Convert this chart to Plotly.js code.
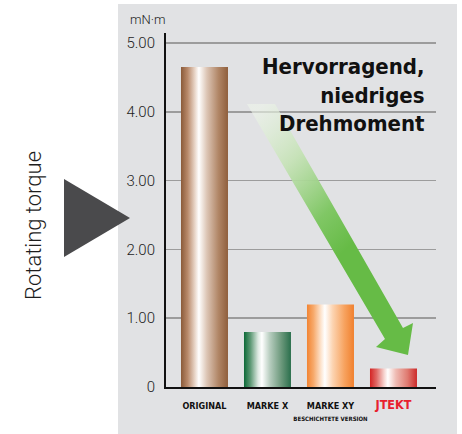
<!DOCTYPE html>
<html>
<head>
<meta charset="utf-8">
<script src="https://cdn.plot.ly/plotly-3.0.1.min.js"></script>
<style>
html,body{margin:0;padding:0;background:#fff;}
#chart{width:462px;height:434px;}
</style>
</head>
<body>
<div id="chart"></div>
<script>
// ---- data ----
var categories = ["ORIGINAL", "MARKE X", "MARKE XY", "JTEKT"];
var categoryLabels = [
  "<b>ORIGINAL</b>",
  "<b>MARKE X</b>",
  "<b>MARKE XY</b><br><span style='font-size:6px'><b>BESCHICHTETE VERSION</b></span>",
  "<b><span style='color:#e8212e;font-size:12.5px'>JTEKT</span></b>"
];
var torqueValues = [4.65, 0.80, 1.20, 0.27];
var yTickValues = [0, 1, 2, 3, 4, 5];
var yTickLabels = ["0", "1.00", "2.00", "3.00", "4.00", "5.00"];
var unitLabel = "mN\u00b7m";
var sideLabel = "Rotating torque";
var headline = "Hervorragend,<br>niedriges<br>Drehmoment";

// ---- layout geometry (pixels) ----
var W = 462, H = 434;
var ML = 166, MR = 26, MT = 33, MB = 47;
var PW = W - ML - MR, PH = H - MT - MB;
function px(x){ return (x - ML) / PW; }
function py(y){ return (H - MB - y) / PH; }
function pathFrom(pts){
  return pts.map(function(p,i){ return (i? "L":"M") + px(p[0]).toFixed(4) + "," + py(p[1]).toFixed(4); }).join(" ") + " Z";
}

var narrow = "'Liberation Sans Narrow', 'DejaVu Sans Condensed', sans-serif";
var light = "Roboto, 'Open Sans', sans-serif";

var trace = {
  type: "bar",
  x: [0,1,2,3],
  y: torqueValues,
  width: 0.746,
  marker: {color: ["#9a6a48","#2f7a4e","#f28733","#d42a2a"], line: {width: 0}},
  hoverinfo: "skip"
};

var layout = {
  width: W, height: H,
  margin: {l: ML, r: MR, t: MT, b: MB, pad: 0},
  paper_bgcolor: "#ffffff",
  plot_bgcolor: "rgba(0,0,0,0)",
  showlegend: false,
  xaxis: {
    range: [-0.611, 3.675],
    tickvals: [0,1,2,3],
    ticktext: categoryLabels,
    showgrid: false, zeroline: false,
    showline: true, linecolor: "#111", linewidth: 2,
    ticks: "", ticklabelstandoff: 9,
    tickfont: {family: narrow, size: 9, color: "#111"},
    fixedrange: true
  },
  yaxis: {
    range: [0, PH / 68.8],
    tickvals: yTickValues,
    ticktext: yTickLabels,
    showgrid: true, gridcolor: "#9c9c9c", gridwidth: 1.5,
    zeroline: false,
    showline: true, linecolor: "#111", linewidth: 2,
    ticks: "", ticklabelstandoff: 6,
    tickfont: {family: light, size: 15, color: "#1e1e1e", weight: 300},
    fixedrange: true
  },
  shapes: [
    {type: "rect", xref: "paper", yref: "paper", layer: "below",
     x0: px(118), x1: px(457), y0: py(4), y1: py(440),
     fillcolor: "#e1e2e4", line: {width: 0}},
    {type: "path", xref: "paper", yref: "paper", layer: "above",
     path: pathFrom([[64,179],[64,257],[130,218]]),
     fillcolor: "#4a4a4c", line: {width: 0}},
    {type: "path", xref: "paper", yref: "paper", layer: "above",
     path: pathFrom([[247,104],[275,104],[403,328],[413,323],[408,355],[376,347],[385,339]]),
     fillcolor: "#66bb46", line: {width: 0}}
  ],
  annotations: [
    {xref: "paper", yref: "paper", x: px(148), y: py(20), text: unitLabel, showarrow: false,
     font: {family: light, size: 13, color: "#222", weight: 300}, xanchor: "center", yanchor: "middle"},
    {xref: "paper", yref: "paper", x: px(33), y: py(226), text: sideLabel, showarrow: false,
     textangle: -90, font: {family: light, size: 22, color: "#1e1e1e", weight: 300}, xanchor: "center", yanchor: "middle"},
    {xref: "paper", yref: "paper", x: px(427), y: py(95), text: headline, showarrow: false,
     align: "right", xanchor: "right", yanchor: "middle",
     font: {family: narrow, size: 22, color: "#111", weight: "bold"}}
  ]
};

Plotly.newPlot("chart", [trace], layout, {displayModeBar: false, staticPlot: true}).then(function(gd){
  var svgNS = "http://www.w3.org/2000/svg";
  var svg = gd.querySelector(".main-svg");
  var defs = svg.querySelector("defs");
  if(!defs){ defs = document.createElementNS(svgNS, "defs"); svg.insertBefore(defs, svg.firstChild); }
  function addGrad(id, stops, coords){
    var g = document.createElementNS(svgNS, "linearGradient");
    g.setAttribute("id", id);
    g.setAttribute("x1", coords[0]); g.setAttribute("y1", coords[1]);
    g.setAttribute("x2", coords[2]); g.setAttribute("y2", coords[3]);
    stops.forEach(function(s){
      var st = document.createElementNS(svgNS, "stop");
      st.setAttribute("offset", s[0]);
      st.setAttribute("stop-color", s[1]);
      st.setAttribute("stop-opacity", s.length > 2 ? s[2] : 1);
      g.appendChild(st);
    });
    defs.appendChild(g);
  }
  var h = [0,0,1,0];
  addGrad("gBrown", [[0,"#8a5a39"],[0.14,"#b8896a"],[0.3,"#ead8cb"],[0.38,"#ffffff"],[0.55,"#dcc5b5"],[0.8,"#b08565"],[1,"#8f5f3d"]], h);
  addGrad("gGreen", [[0,"#0c6937"],[0.14,"#5f9a76"],[0.3,"#dde9e1"],[0.38,"#ffffff"],[0.55,"#b7cdbf"],[0.8,"#6a977a"],[1,"#2a6f4c"]], h);
  addGrad("gOrange", [[0,"#f28432"],[0.14,"#f7aa6c"],[0.3,"#fde5d0"],[0.38,"#ffffff"],[0.55,"#fcd3b0"],[0.8,"#f7a25e"],[1,"#f0802e"]], h);
  addGrad("gRed", [[0,"#d42424"],[0.14,"#e06a66"],[0.3,"#f6d3cf"],[0.38,"#ffffff"],[0.55,"#efbcb4"],[0.8,"#df7a70"],[1,"#cc2a2a"]], h);
  addGrad("gArrow", [[0,"#eef5ea",0.6],[0.3,"#c4e2b4",0.9],[0.6,"#80c765",1],[0.8,"#66bb46",1],[1,"#66bb46",1]], [0.1,0,0.6,0.8]);
  var ids = ["gBrown","gGreen","gOrange","gRed"];
  gd.querySelectorAll(".barlayer .point path").forEach(function(p,i){
    p.style.fill = "url(#" + ids[i] + ")";
  });
  var shp = gd.querySelectorAll(".layer-above .shapelayer path");
  if(shp.length >= 2){ shp[1].style.fill = "url(#gArrow)"; shp[1].style.fillOpacity = 1; }
});
</script>
</body>
</html>
